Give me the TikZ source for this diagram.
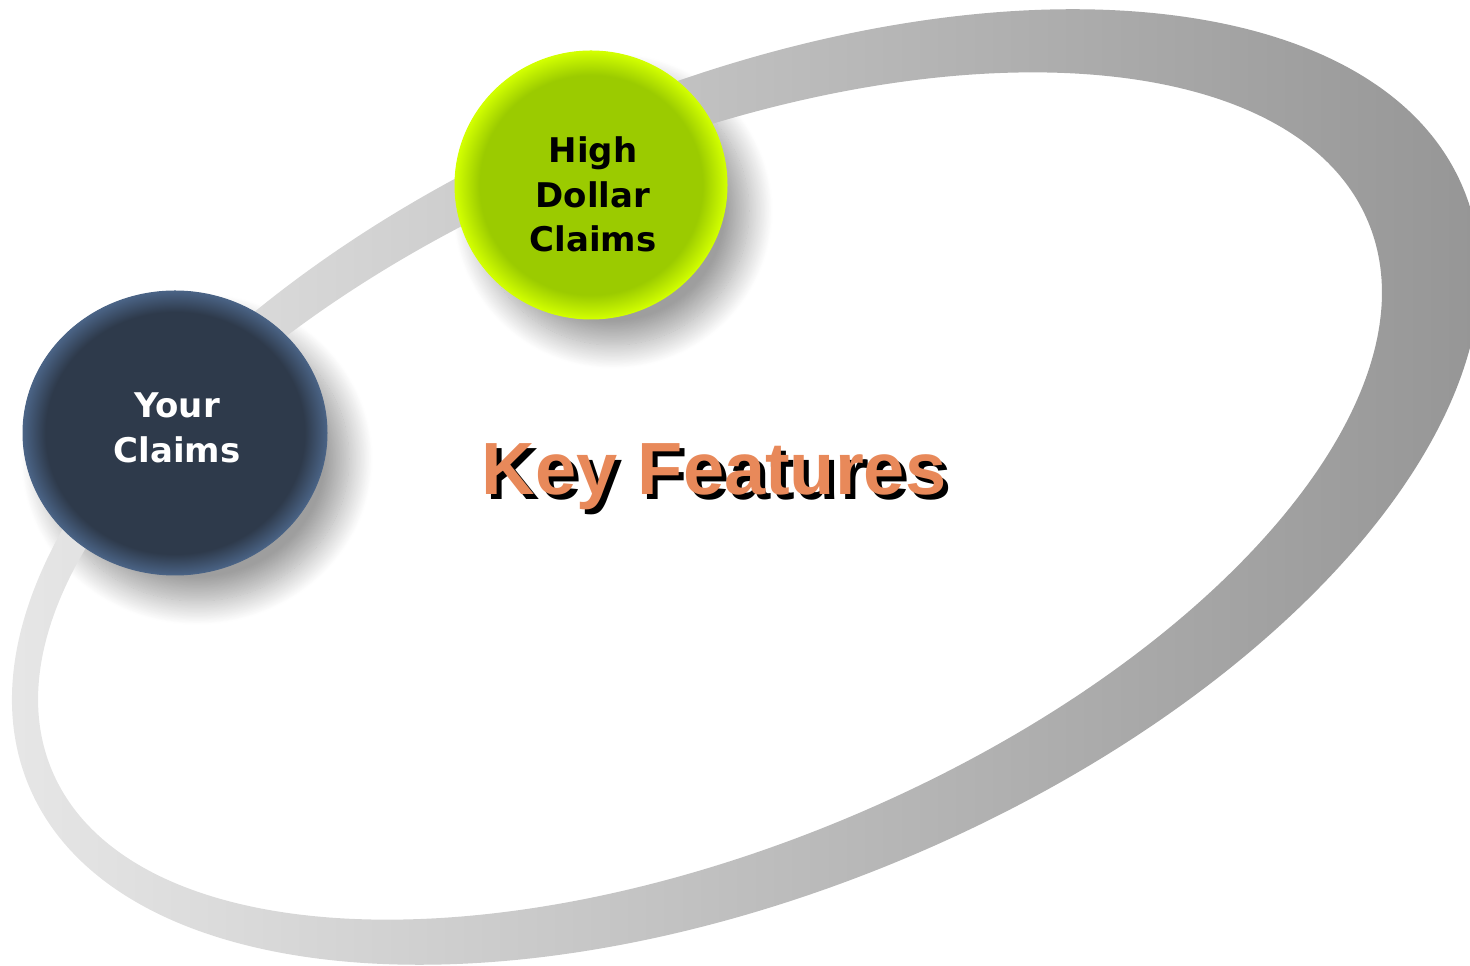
\documentclass[tikz,border=0pt]{standalone}
\usepackage{fontspec}
\setmainfont{DejaVu Sans}
\newfontfamily\headfont{Liberation Sans}
\usetikzlibrary{shapes.geometric,shadows.blur}

\definecolor{navy}{HTML}{2E3A4B}
\definecolor{navyrim}{HTML}{4A6385}
\definecolor{lime}{HTML}{9BCB00}
\definecolor{limerim}{HTML}{D2FF00}
\definecolor{ringlight}{HTML}{EAEAEA}
\definecolor{ringdark}{HTML}{929292}
\definecolor{keyorange}{HTML}{E8895A}

% flat discs with a soft glowing rim
\pgfdeclareradialshading{navyglow}{\pgfpoint{0bp}{0bp}}{color(0bp)=(navy); color(21.3bp)=(navy); color(25bp)=(navyrim); color(50bp)=(navyrim)}
\pgfdeclareradialshading{limeglow}{\pgfpoint{0bp}{0bp}}{color(0bp)=(lime); color(20.5bp)=(lime); color(25bp)=(limerim); color(50bp)=(limerim)}

\tikzset{
  discshadow/.style={blur shadow={shadow xshift=22pt, shadow yshift=-26pt,
      shadow blur radius=24pt, shadow blur steps=30, shadow opacity=38}},
  disc/.style={ellipse, inner sep=0pt, shade, line width=1pt},
  disctext/.style={align=center, inner sep=0pt,
    font=\fontsize{34}{44.5}\selectfont\bfseries},
  headline/.style={inner sep=0pt, anchor=base,
    font=\headfont\fontsize{74}{80}\selectfont\bfseries}
}

\begin{document}
\begin{tikzpicture}[x=1pt,y=1pt]
\useasboundingbox (0,0) rectangle (1470,966);

% soft shadows cast by the two discs
\path[discshadow] (175,533) ellipse [x radius=152, y radius=142];
\path[discshadow] (591,781) ellipse [x radius=136, y radius=134];

% tilted orbit ring, thicker towards the right
\begin{scope}[shift={(746,479)}, rotate=22.6]
  \shade[left color=ringlight, right color=ringdark, even odd rule]
    (0,0) ellipse [x radius=777, y radius=404]
    (-36.7,5.5) ellipse [x radius=713, y radius=350];
\end{scope}

% discs
\node[disc, shading=navyglow, draw=navyrim,
      minimum width=304pt, minimum height=284pt] (your) at (175,533) {};
\node[disc, shading=limeglow, draw=limerim,
      minimum width=272pt, minimum height=268pt] (high) at (591,781) {};

\node[disctext, text=white] (yourtext) at (177,538) {Your\\Claims};
\node[disctext, text=black] (hightext) at (593,771.4) {High\\Dollar\\Claims};

% title with hard drop shadow
\node[headline, text=black] (keyshadow) at (719,466) {Key Features};
\node[headline, text=keyorange] (key) at (714,471) {Key Features};
\end{tikzpicture}
\end{document}
